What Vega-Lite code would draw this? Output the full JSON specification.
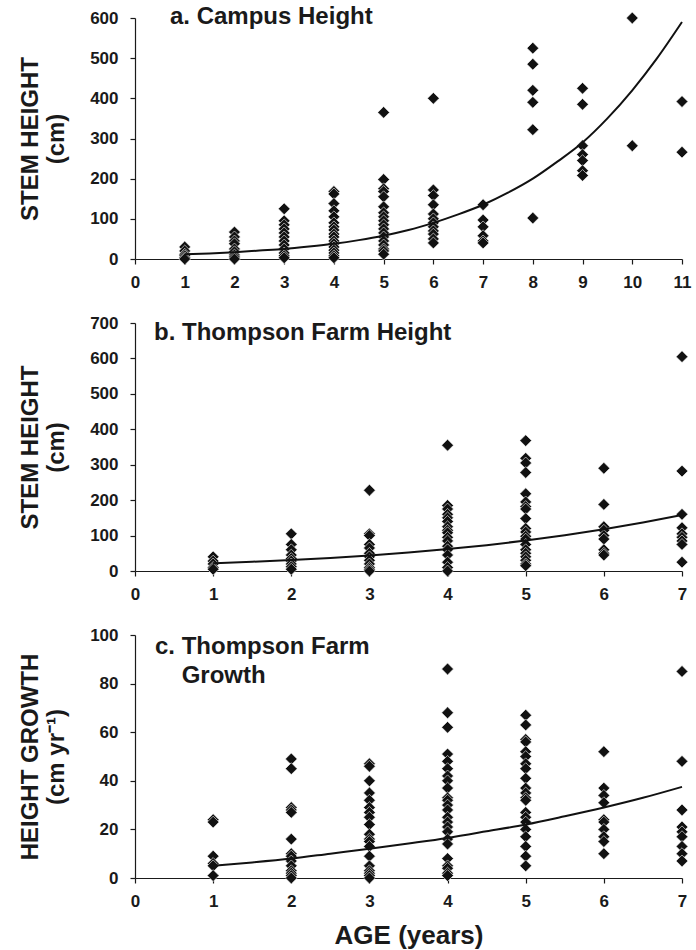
{
  "$schema": "https://vega.github.io/schema/vega-lite/v6.json",
  "padding": {"left": 18, "top": 5, "right": 12, "bottom": 3},
  "spacing": 64,
  "bounds": "flush",
  "resolve": {"scale": {"x": "independent", "y": "independent"}, "axis": {"x": "independent", "y": "independent"}},
  "datasets": {
    "campus": [
      {"age":1,"h":30},{"age":1,"h":20},{"age":1,"h":12},{"age":1,"h":8},{"age":1,"h":3},{"age":1,"h":0},
      {"age":2,"h":67},{"age":2,"h":55},{"age":2,"h":45},{"age":2,"h":38},{"age":2,"h":25},{"age":2,"h":18},{"age":2,"h":10},{"age":2,"h":5},{"age":2,"h":0},
      {"age":3,"h":125},{"age":3,"h":95},{"age":3,"h":85},{"age":3,"h":75},{"age":3,"h":65},{"age":3,"h":55},{"age":3,"h":45},{"age":3,"h":35},{"age":3,"h":25},{"age":3,"h":15},{"age":3,"h":8},{"age":3,"h":3},
      {"age":4,"h":168},{"age":4,"h":162},{"age":4,"h":138},{"age":4,"h":120},{"age":4,"h":105},{"age":4,"h":90},{"age":4,"h":80},{"age":4,"h":72},{"age":4,"h":62},{"age":4,"h":55},{"age":4,"h":45},{"age":4,"h":38},{"age":4,"h":30},{"age":4,"h":22},{"age":4,"h":15},{"age":4,"h":8},{"age":4,"h":3},
      {"age":5,"h":365},{"age":5,"h":198},{"age":5,"h":175},{"age":5,"h":168},{"age":5,"h":155},{"age":5,"h":130},{"age":5,"h":115},{"age":5,"h":105},{"age":5,"h":95},{"age":5,"h":85},{"age":5,"h":75},{"age":5,"h":65},{"age":5,"h":55},{"age":5,"h":45},{"age":5,"h":35},{"age":5,"h":25},{"age":5,"h":20},{"age":5,"h":12},
      {"age":6,"h":400},{"age":6,"h":172},{"age":6,"h":158},{"age":6,"h":135},{"age":6,"h":112},{"age":6,"h":100},{"age":6,"h":90},{"age":6,"h":80},{"age":6,"h":70},{"age":6,"h":62},{"age":6,"h":50},{"age":6,"h":40},
      {"age":7,"h":135},{"age":7,"h":97},{"age":7,"h":80},{"age":7,"h":58},{"age":7,"h":45},{"age":7,"h":40},
      {"age":8,"h":525},{"age":8,"h":485},{"age":8,"h":420},{"age":8,"h":390},{"age":8,"h":322},{"age":8,"h":102},
      {"age":9,"h":425},{"age":9,"h":385},{"age":9,"h":282},{"age":9,"h":260},{"age":9,"h":245},{"age":9,"h":220},{"age":9,"h":208},
      {"age":10,"h":600},{"age":10,"h":282},
      {"age":11,"h":392},{"age":11,"h":266}
    ],
    "campusFit": [
      {"age":1,"fit":12},{"age":1.5,"fit":14},{"age":2,"fit":17},{"age":2.5,"fit":21},{"age":3,"fit":25},{"age":3.5,"fit":31},{"age":4,"fit":38},{"age":4.5,"fit":47},{"age":5,"fit":58},{"age":5.5,"fit":72},{"age":6,"fit":90},{"age":6.5,"fit":111},{"age":7,"fit":135},{"age":7.5,"fit":165},{"age":8,"fit":200},{"age":8.5,"fit":243},{"age":9,"fit":290},{"age":9.5,"fit":350},{"age":10,"fit":420},{"age":10.5,"fit":500},{"age":11,"fit":590}
    ],
    "farm": [
      {"age":1,"h":40},{"age":1,"h":28},{"age":1,"h":20},{"age":1,"h":10},{"age":1,"h":5},
      {"age":2,"h":105},{"age":2,"h":75},{"age":2,"h":60},{"age":2,"h":45},{"age":2,"h":35},{"age":2,"h":28},{"age":2,"h":20},{"age":2,"h":12},{"age":2,"h":5},
      {"age":3,"h":228},{"age":3,"h":105},{"age":3,"h":100},{"age":3,"h":75},{"age":3,"h":65},{"age":3,"h":50},{"age":3,"h":40},{"age":3,"h":30},{"age":3,"h":20},{"age":3,"h":10},{"age":3,"h":5},{"age":3,"h":0},
      {"age":4,"h":355},{"age":4,"h":185},{"age":4,"h":175},{"age":4,"h":160},{"age":4,"h":150},{"age":4,"h":140},{"age":4,"h":125},{"age":4,"h":115},{"age":4,"h":108},{"age":4,"h":95},{"age":4,"h":85},{"age":4,"h":70},{"age":4,"h":60},{"age":4,"h":45},{"age":4,"h":25},{"age":4,"h":10},{"age":4,"h":0},
      {"age":5,"h":368},{"age":5,"h":318},{"age":5,"h":305},{"age":5,"h":278},{"age":5,"h":218},{"age":5,"h":195},{"age":5,"h":182},{"age":5,"h":175},{"age":5,"h":148},{"age":5,"h":120},{"age":5,"h":110},{"age":5,"h":98},{"age":5,"h":90},{"age":5,"h":75},{"age":5,"h":60},{"age":5,"h":50},{"age":5,"h":40},{"age":5,"h":30},{"age":5,"h":20},{"age":5,"h":15},
      {"age":6,"h":290},{"age":6,"h":188},{"age":6,"h":125},{"age":6,"h":115},{"age":6,"h":100},{"age":6,"h":90},{"age":6,"h":60},{"age":6,"h":50},{"age":6,"h":45},
      {"age":7,"h":605},{"age":7,"h":282},{"age":7,"h":160},{"age":7,"h":122},{"age":7,"h":105},{"age":7,"h":95},{"age":7,"h":85},{"age":7,"h":75},{"age":7,"h":25}
    ],
    "farmFit": [
      {"age":1,"fit":22},{"age":1.5,"fit":26},{"age":2,"fit":31},{"age":2.5,"fit":37},{"age":3,"fit":44},{"age":3.5,"fit":52},{"age":4,"fit":62},{"age":4.5,"fit":73},{"age":5,"fit":86},{"age":5.5,"fit":101},{"age":6,"fit":118},{"age":6.5,"fit":137},{"age":7,"fit":158}
    ],
    "growth": [
      {"age":1,"g":24},{"age":1,"g":23},{"age":1,"g":9},{"age":1,"g":6},{"age":1,"g":5},{"age":1,"g":1},
      {"age":2,"g":49},{"age":2,"g":45},{"age":2,"g":29},{"age":2,"g":28},{"age":2,"g":27},{"age":2,"g":16},{"age":2,"g":10},{"age":2,"g":9},{"age":2,"g":7},{"age":2,"g":5},{"age":2,"g":3},{"age":2,"g":2},{"age":2,"g":1},{"age":2,"g":0},
      {"age":3,"g":47},{"age":3,"g":46},{"age":3,"g":40},{"age":3,"g":35},{"age":3,"g":32},{"age":3,"g":29},{"age":3,"g":27},{"age":3,"g":25},{"age":3,"g":22},{"age":3,"g":18},{"age":3,"g":16},{"age":3,"g":15},{"age":3,"g":13},{"age":3,"g":9},{"age":3,"g":5},{"age":3,"g":3},{"age":3,"g":2},{"age":3,"g":1},{"age":3,"g":0},
      {"age":4,"g":86},{"age":4,"g":68},{"age":4,"g":62},{"age":4,"g":51},{"age":4,"g":48},{"age":4,"g":45},{"age":4,"g":42},{"age":4,"g":40},{"age":4,"g":37},{"age":4,"g":33},{"age":4,"g":32},{"age":4,"g":30},{"age":4,"g":28},{"age":4,"g":25},{"age":4,"g":23},{"age":4,"g":21},{"age":4,"g":19},{"age":4,"g":16},{"age":4,"g":14},{"age":4,"g":8},{"age":4,"g":5},{"age":4,"g":4},{"age":4,"g":2},{"age":4,"g":1},
      {"age":5,"g":67},{"age":5,"g":63},{"age":5,"g":57},{"age":5,"g":56},{"age":5,"g":52},{"age":5,"g":50},{"age":5,"g":47},{"age":5,"g":45},{"age":5,"g":41},{"age":5,"g":37},{"age":5,"g":35},{"age":5,"g":33},{"age":5,"g":32},{"age":5,"g":27},{"age":5,"g":25},{"age":5,"g":23},{"age":5,"g":20},{"age":5,"g":17},{"age":5,"g":13},{"age":5,"g":9},{"age":5,"g":5},
      {"age":6,"g":52},{"age":6,"g":37},{"age":6,"g":34},{"age":6,"g":31},{"age":6,"g":24},{"age":6,"g":23},{"age":6,"g":20},{"age":6,"g":17},{"age":6,"g":15},{"age":6,"g":10},
      {"age":7,"g":85},{"age":7,"g":48},{"age":7,"g":28},{"age":7,"g":21},{"age":7,"g":19},{"age":7,"g":17},{"age":7,"g":13},{"age":7,"g":10},{"age":7,"g":7}
    ],
    "growthFit": [
      {"age":1,"fit":5},{"age":1.5,"fit":6.4},{"age":2,"fit":8},{"age":2.5,"fit":10},{"age":3,"fit":12},{"age":3.5,"fit":14.2},{"age":4,"fit":16.5},{"age":4.5,"fit":19.2},{"age":5,"fit":22},{"age":5.5,"fit":25.4},{"age":6,"fit":29},{"age":6.5,"fit":33},{"age":7,"fit":37.5}
    ]
  },
  "vconcat": [
    {
      "width": 547,
      "height": 241,
      "title": {"text": "a. Campus Height", "anchor": "start", "frame": "group", "orient": "top", "baseline": "top", "offset": 0, "dx": 35, "dy": 20},
      "layer": [
        {
          "data": {"name": "campus"},
          "mark": {"type": "point", "shape": "diamond", "filled": true, "size": 140, "color": "#111111", "stroke": "#ffffff", "strokeWidth": 0.6, "opacity": 1},
          "encoding": {
            "x": {"field": "age", "type": "quantitative", "scale": {"domain": [0, 11], "nice": false}, "axis": {"values": [0,1,2,3,4,5,6,7,8,9,10,11], "format": "d", "labelOverlap": false, "title": null}},
            "y": {"field": "h", "type": "quantitative", "scale": {"domain": [0, 600], "nice": false}, "axis": {"values": [0,100,200,300,400,500,600], "format": "d", "labelOverlap": false, "title": ["STEM HEIGHT", "(cm)"]}}
          }
        },
        {
          "data": {"name": "campusFit"},
          "mark": {"type": "line", "interpolate": "monotone", "color": "#111111", "strokeWidth": 2},
          "encoding": {
            "x": {"field": "age", "type": "quantitative", "axis": {"values": [0,1,2,3,4,5,6,7,8,9,10,11], "format": "d", "labelOverlap": false, "title": null}},
            "y": {"field": "fit", "type": "quantitative", "axis": {"values": [0,100,200,300,400,500,600], "format": "d", "labelOverlap": false, "title": ["STEM HEIGHT", "(cm)"]}}
          }
        }
      ]
    },
    {
      "width": 547,
      "height": 248,
      "title": {"text": "b. Thompson Farm Height", "anchor": "start", "frame": "group", "orient": "top", "baseline": "top", "offset": 0, "dx": 19, "dy": 31},
      "layer": [
        {
          "data": {"name": "farm"},
          "mark": {"type": "point", "shape": "diamond", "filled": true, "size": 140, "color": "#111111", "stroke": "#ffffff", "strokeWidth": 0.6, "opacity": 1},
          "encoding": {
            "x": {"field": "age", "type": "quantitative", "scale": {"domain": [0, 7], "nice": false}, "axis": {"values": [0,1,2,3,4,5,6,7], "format": "d", "labelOverlap": false, "title": null}},
            "y": {"field": "h", "type": "quantitative", "scale": {"domain": [0, 700], "nice": false}, "axis": {"values": [0,100,200,300,400,500,600,700], "format": "d", "labelOverlap": false, "title": ["STEM HEIGHT", "(cm)"]}}
          }
        },
        {
          "data": {"name": "farmFit"},
          "mark": {"type": "line", "interpolate": "monotone", "color": "#111111", "strokeWidth": 2},
          "encoding": {
            "x": {"field": "age", "type": "quantitative", "axis": {"values": [0,1,2,3,4,5,6,7], "format": "d", "labelOverlap": false, "title": null}},
            "y": {"field": "fit", "type": "quantitative", "axis": {"values": [0,100,200,300,400,500,600,700], "format": "d", "labelOverlap": false, "title": ["STEM HEIGHT", "(cm)"]}}
          }
        }
      ]
    },
    {
      "width": 547,
      "height": 243,
      "title": {"text": ["c. Thompson Farm", "\u200b\u00a0\u00a0\u00a0\u00a0Growth"], "lineHeight": 29, "anchor": "start", "frame": "group", "orient": "top", "baseline": "top", "offset": 0, "dx": 20, "dy": 62},
      "layer": [
        {
          "data": {"name": "growth"},
          "mark": {"type": "point", "shape": "diamond", "filled": true, "size": 140, "color": "#111111", "stroke": "#ffffff", "strokeWidth": 0.6, "opacity": 1},
          "encoding": {
            "x": {"field": "age", "type": "quantitative", "scale": {"domain": [0, 7], "nice": false}, "axis": {"values": [0,1,2,3,4,5,6,7], "format": "d", "labelOverlap": false, "title": "AGE (years)", "titleFontSize": 26, "titlePadding": 13}},
            "y": {"field": "g", "type": "quantitative", "scale": {"domain": [0, 100], "nice": false}, "axis": {"values": [0,20,40,60,80,100], "format": "d", "labelOverlap": false, "title": ["HEIGHT GROWTH", "(cm yr\u207b\u00b9)"]}}
          }
        },
        {
          "data": {"name": "growthFit"},
          "mark": {"type": "line", "interpolate": "monotone", "color": "#111111", "strokeWidth": 2},
          "encoding": {
            "x": {"field": "age", "type": "quantitative", "axis": {"values": [0,1,2,3,4,5,6,7], "format": "d", "labelOverlap": false, "title": "AGE (years)", "titleFontSize": 26, "titlePadding": 13}},
            "y": {"field": "fit", "type": "quantitative", "axis": {"values": [0,20,40,60,80,100], "format": "d", "labelOverlap": false, "title": ["HEIGHT GROWTH", "(cm yr\u207b\u00b9)"]}}
          }
        }
      ]
    }
  ],
  "config": {
    "view": {"stroke": null},
    "font": "Liberation Sans",
    "title": {"font": "Liberation Sans", "fontSize": 24, "fontWeight": "bold", "color": "#1a1a1a"},
    "axis": {
      "grid": false,
      "domainColor": "#1a1a1a",
      "domainWidth": 1.2,
      "tickColor": "#1a1a1a",
      "tickWidth": 1.2,
      "tickSize": 5,
      "labelFont": "Liberation Sans",
      "labelFontWeight": "bold",
      "labelFontSize": 17,
      "labelColor": "#1a1a1a",
      "labelFlush": false,
      "labelOverlap": false,
      "titleFont": "Liberation Sans",
      "titleFontWeight": "bold",
      "titleFontSize": 24,
      "titleLineHeight": 26,
      "titleColor": "#1a1a1a"
    },
    "axisX": {"labelPadding": 10},
    "axisY": {"labelPadding": 12, "titlePadding": 21}
  }
}
